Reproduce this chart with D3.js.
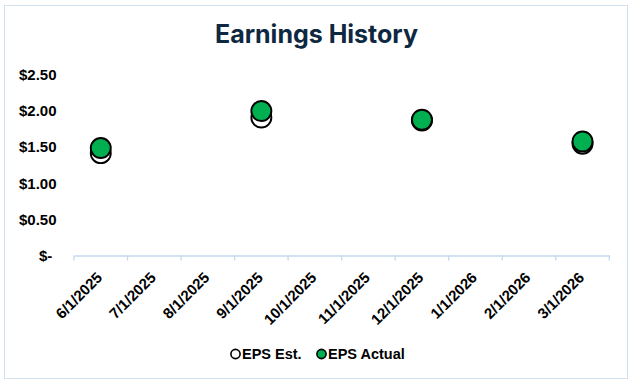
<!DOCTYPE html>
<html><head><meta charset="utf-8">
<script src="https://cdn.jsdelivr.net/npm/d3@7"></script>
<style>
html,body{margin:0;padding:0;background:#fff;}
svg{display:block;}
</style></head>
<body>
<svg id="chart" width="631" height="383"></svg>
<script>
const categories = ["6/1/2025","7/1/2025","8/1/2025","9/1/2025","10/1/2025","11/1/2025","12/1/2025","1/1/2026","2/1/2026","3/1/2026"];
const estDates = ["6/1/2025","9/1/2025","12/1/2025","3/1/2026"];
const epsEst = [1.41, 1.90, 1.86, 1.54];
const epsActual = [1.48, 1.99, 1.87, 1.57];
const yTicks = [0, 0.5, 1.0, 1.5, 2.0, 2.5];
const seriesNames = ["EPS Est.", "EPS Actual"];

const svg = d3.select("#chart");
const font = "'Liberation Sans', Arial, sans-serif";
const axisColor = "#c5d8ee";

svg.append("rect").attr("x",4.5).attr("y",5.5).attr("width",623).attr("height",373)
  .attr("fill","#fff").attr("stroke","#d2e0f0").attr("stroke-width",1);

svg.append("text").attr("x",316.5).attr("y",43).attr("text-anchor","middle")
  .attr("font-family","Inter, 'Open Sans', sans-serif").attr("font-weight",700)
  .attr("font-size",25).attr("fill","#0e2841").text("Earnings History");

const x = d3.scaleBand().domain(categories).range([74, 609.3]);
const y = d3.scaleLinear().domain([0, 2.5]).range([255.5, 74]);

const fmt = v => v === 0 ? "$-\u00a0" : "$" + d3.format(".2f")(v);

// y axis labels (no line)
const yAxis = svg.append("g").attr("transform","translate(56.5,0)")
  .call(d3.axisLeft(y).tickValues(yTicks).tickFormat(fmt).tickSize(0).tickPadding(0));
yAxis.select(".domain").remove();
yAxis.selectAll("text").attr("font-family",font).attr("font-weight",700)
  .attr("font-size",15).attr("fill","#000").attr("dy","0.35em");

// x axis
const xAxis = svg.append("g").attr("transform",`translate(0,${y(0)})`)
  .call(d3.axisBottom(x).tickSizeOuter(0).tickSize(0));
xAxis.select(".domain").attr("stroke",axisColor).attr("stroke-width",1.3);
// boundary tick marks between categories
const bounds = categories.map(c => x(c)).concat([x.range()[1]]);
xAxis.selectAll(".bound").data(bounds).enter().append("line")
  .attr("x1",d=>d).attr("x2",d=>d).attr("y1",0).attr("y2",5)
  .attr("stroke",axisColor).attr("stroke-width",1.3);
xAxis.selectAll(".tick text")
  .attr("font-family",font).attr("font-weight",700).attr("font-size",15).attr("fill","#000")
  .attr("text-anchor","end").attr("dy",0).attr("y",0)
  .attr("transform","translate(2.5,23) rotate(-45)");

// markers
const r = 10;
svg.append("g").selectAll("circle").data(estDates).enter().append("circle")
  .attr("cx",d=>x(d)+x.bandwidth()/2).attr("cy",(d,i)=>y(epsEst[i])).attr("r",r)
  .attr("fill","#fff").attr("stroke","#000").attr("stroke-width",1.9);
svg.append("g").selectAll("circle").data(estDates).enter().append("circle")
  .attr("cx",d=>x(d)+x.bandwidth()/2).attr("cy",(d,i)=>y(epsActual[i])).attr("r",r)
  .attr("fill","#00b050").attr("stroke","#000").attr("stroke-width",1.9);

// legend
const leg = svg.append("g");
const legItems = [
  {name: seriesNames[0], fill:"#fff", cx:235.5, tx:242},
  {name: seriesNames[1], fill:"#00b050", cx:321.5, tx:328}
];
legItems.forEach(it => {
  leg.append("circle").attr("cx",it.cx).attr("cy",354).attr("r",4.6)
    .attr("fill",it.fill).attr("stroke","#000").attr("stroke-width",1.6);
  leg.append("text").attr("x",it.tx).attr("y",354).attr("dy","0.35em")
    .attr("font-family",font).attr("font-weight",700).attr("font-size",14.5).attr("fill","#000")
    .text(it.name);
});
</script>
</body></html>
